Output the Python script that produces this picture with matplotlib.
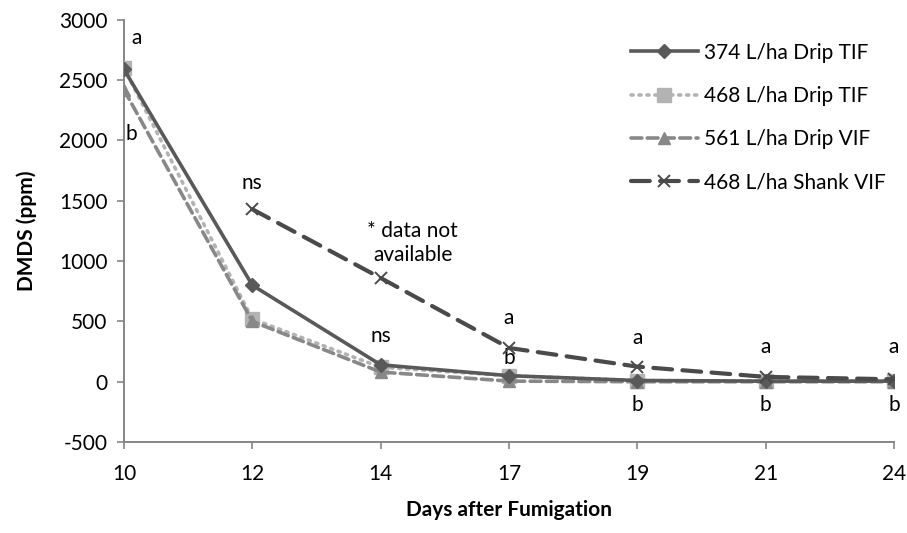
import matplotlib
matplotlib.use("Agg")
import matplotlib.pyplot as plt
import numpy as np

plt.rcParams['font.family'] = ['Lato', 'DejaVu Sans']
plt.rcParams['axes.unicode_minus'] = False

days = ['10', '12', '14', '17', '19', '21', '24']

drip_374_tif = [2590, 800, 140, 50, 10, 5, 5]
drip_468_tif = [2600, 520, 120, 50, 10, 5, 5]
drip_561_vif = [2420, 500, 80, 5, 0, 0, 0]
shank_468_vif = [np.nan, 1430, 860, 280, 125, 40, 20]

series_names = ['374 L/ha Drip TIF', '468 L/ha Drip TIF',
                '561 L/ha Drip VIF', '468 L/ha Shank VIF']

# significance letters: (day position, y value, text)
letters = [
    (0.1, 2850, 'a'), (0.06, 2050, 'b'),
    (1, 1650, 'ns'), (2, 380, 'ns'),
    (3, 530, 'a'), (3, 200, 'b'),
    (4, 360, 'a'), (4, -190, 'b'),
    (5, 290, 'a'), (5, -190, 'b'),
    (6, 290, 'a'), (6, -190, 'b'),
]
note_text = '* data not\navailable'

fig = plt.figure(figsize=(9.07, 5.33), dpi=100)
ax = fig.add_axes([0.1367, 0.1707, 0.849, 0.792])

x = np.arange(len(days))

ax.plot(x, drip_374_tif, color='#595959', lw=2.6, marker='D', ms=7,
        label=series_names[0], zorder=4)
ax.plot(x, drip_468_tif, color='#b3b3b3', lw=2.6, ls=(0, (0.6, 1.6)),
        dash_capstyle='round', marker='s', ms=10, label=series_names[1], zorder=3)
ax.plot(x, drip_561_vif, color='#888888', lw=2.6, ls=(0, (3, 1.5)),
        dash_capstyle='round', marker='^', ms=9, label=series_names[2], zorder=3)
ax.plot(x, shank_468_vif, color='#4a4a4a', lw=3.0, ls=(0, (4.5, 2.5)),
        dash_capstyle='round', marker='x', ms=9, mew=1.4,
        label=series_names[3], zorder=5)

for i, yv, t in letters:
    ax.text(i, yv, t, ha='center', va='center', fontsize=15)
ax.text(2.25, 1150, note_text, ha='center', va='center', fontsize=15,
        linespacing=1.2)

ax.set_xlim(0, len(days) - 1)
ax.set_ylim(-500, 3000)
ax.set_yticks(np.arange(-500, 3001, 500))
ax.set_xticks(x)
ax.set_xticklabels(days)
ax.tick_params(axis='both', labelsize=15, color='#868686', length=5,
               width=1.2, direction='out')
ax.tick_params(axis='x', pad=11)
ax.tick_params(axis='y', pad=7)

for side in ['top', 'right']:
    ax.spines[side].set_visible(False)
for side in ['left', 'bottom']:
    ax.spines[side].set_color('#868686')
    ax.spines[side].set_linewidth(1.4)

ax.set_ylabel('DMDS (ppm)', fontsize=15, fontweight='bold', labelpad=16)
ax.set_xlabel('Days after Fumigation', fontsize=15, fontweight='bold',
              labelpad=11)

fig.legend(loc='upper left', bbox_to_anchor=(0.675, 0.955), frameon=False,
           fontsize=15, handlelength=3.2, handletextpad=0.3, labelspacing=1.12)

fig.savefig('out.png', dpi=100)
